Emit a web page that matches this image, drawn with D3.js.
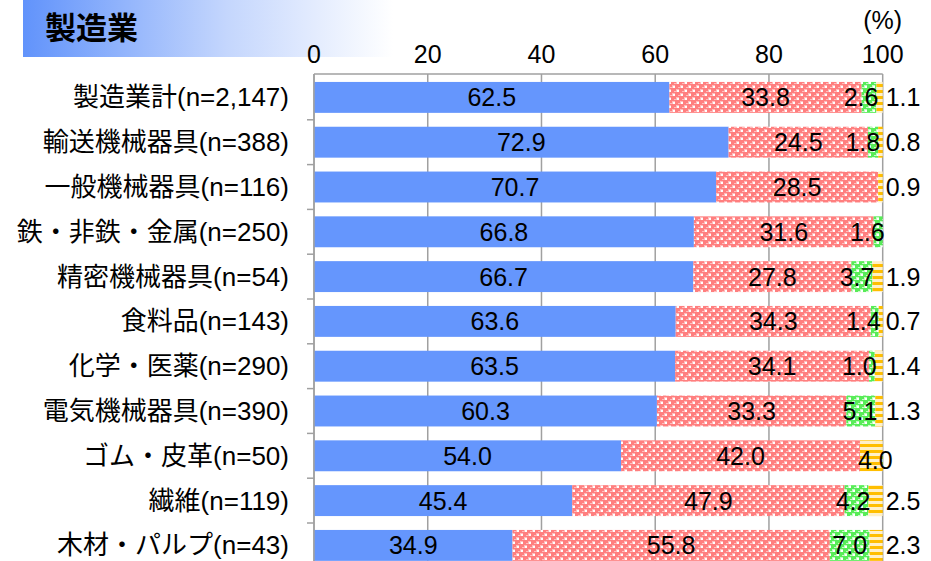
<!DOCTYPE html>
<html>
<head>
<meta charset="utf-8">
<script src="https://cdn.jsdelivr.net/npm/d3@7"></script>
<style>
  html, body { margin: 0; padding: 0; background: #fff; }
  svg { display: block; }
  text { font-family: "Liberation Sans", Arial, "Noto Sans CJK JP", sans-serif; }
</style>
</head>
<body>
<svg id="chart" width="931" height="561"></svg>
<script>
// Survey categories (industry, sample size)
const categories = [
  "製造業計(n=2,147)",
  "輸送機械器具(n=388)",
  "一般機械器具(n=116)",
  "鉄・非鉄・金属(n=250)",
  "精密機械器具(n=54)",
  "食料品(n=143)",
  "化学・医薬(n=290)",
  "電気機械器具(n=390)",
  "ゴム・皮革(n=50)",
  "繊維(n=119)",
  "木材・パルプ(n=43)"
];
// Share of responses (%) for each of the four answer groups
const seriesA = [62.5, 72.9, 70.7, 66.8, 66.7, 63.6, 63.5, 60.3, 54.0, 45.4, 34.9];
const seriesB = [33.8, 24.5, 28.5, 31.6, 27.8, 34.3, 34.1, 33.3, 42.0, 47.9, 55.8];
const seriesC = [2.6, 1.8, 0, 1.6, 3.7, 1.4, 1.0, 5.1, 0, 4.2, 7.0];
const seriesD = [1.1, 0.8, 0.9, 0, 1.9, 0.7, 1.4, 1.3, 4.0, 2.5, 2.3];
const xTicks = [0, 20, 40, 60, 80, 100];
const title = "製造業";

const svg = d3.select("#chart");
const defs = svg.append("defs");

// Title band with fading gradient
const grad = defs.append("linearGradient").attr("id", "titleGrad")
  .attr("x1", "0%").attr("x2", "100%").attr("y1", "0%").attr("y2", "0%");
grad.append("stop").attr("offset", "0%").attr("stop-color", "#6193fb");
grad.append("stop").attr("offset", "55%").attr("stop-color", "#c4d6fd");
grad.append("stop").attr("offset", "100%").attr("stop-color", "#ffffff");
svg.append("rect").attr("x", 23).attr("y", 0).attr("width", 370).attr("height", 57)
  .attr("fill", "url(#titleGrad)");
svg.append("text").attr("x", 45).attr("y", 39).attr("font-size", 31)
  .attr("font-weight", "bold").attr("fill", "#000")
  .style("font-family", "'Noto Sans CJK JP', sans-serif").text(title);

// Checkered diagonal fill pattern
function diagPattern(id, base, light) {
  const p = defs.append("pattern").attr("id", id).attr("patternUnits", "userSpaceOnUse")
    .attr("width", 8).attr("height", 8);
  p.append("rect").attr("width", 8).attr("height", 8).attr("fill", base);
  [[0, 5], [4, 1]].forEach(([x, y]) => {
    p.append("rect").attr("x", x).attr("y", y).attr("width", 3).attr("height", 3).attr("fill", light);
    p.append("rect").attr("x", x + 1).attr("y", y + 1).attr("width", 2).attr("height", 2).attr("fill", "#ffffff");
  });
  [[2, 3], [6, 7]].forEach(([x, y]) => {
    p.append("rect").attr("x", x).attr("y", y).attr("width", 2).attr("height", 1).attr("fill", light);
  });
}
diagPattern("patB", "#ff7f7f", "#ffbcbc");
diagPattern("patC", "#58ec58", "#c4fac4");
// Horizontal stripes
const pd = defs.append("pattern").attr("id", "patD").attr("patternUnits", "userSpaceOnUse")
  .attr("width", 6).attr("height", 6);
pd.append("rect").attr("width", 6).attr("height", 6).attr("fill", "#fff0c8");
pd.append("rect").attr("y", 0).attr("width", 6).attr("height", 3).attr("fill", "#ffbe00");

// Scales
const x = d3.scaleLinear().domain([0, 100]).range([314, 882.7]);
const y = d3.scaleBand().domain(categories).range([75, 567.8]).paddingInner(0.31).paddingOuter(0.155);
const step = y.step();

// Grid lines
svg.append("g").selectAll("line").data(xTicks).join("line")
  .attr("x1", d => x(d)).attr("x2", d => x(d))
  .attr("y1", 74).attr("y2", 561)
  .attr("stroke", "#a0a0a0").attr("stroke-width", 1.5);

// Stacked data
const rows = categories.map((c, i) => ({ cat: c, vals: [seriesA[i], seriesB[i], seriesC[i], seriesD[i]] }));
const fills = ["#6596fd", "url(#patB)", "url(#patC)", "url(#patD)"];
const segs = [];
rows.forEach(r => {
  let acc = 0;
  r.vals.forEach((v, k) => {
    segs.push({ cat: r.cat, k, v, x0: acc, x1: acc + v });
    acc += v;
  });
});

svg.append("g").selectAll("rect").data(segs.filter(s => s.v > 0)).join("rect")
  .attr("x", d => x(d.x0))
  .attr("width", d => Math.max(0, Math.min(x(d.x1), x(100)) - x(d.x0)))
  .attr("y", d => y(d.cat)).attr("height", y.bandwidth())
  .attr("fill", d => fills[d.k]);

// Axis lines
svg.append("line").attr("x1", 314).attr("x2", x(100)).attr("y1", 74).attr("y2", 74)
  .attr("stroke", "#a0a0a0").attr("stroke-width", 1.5);
svg.append("line").attr("x1", 314).attr("x2", 314).attr("y1", 74).attr("y2", 561)
  .attr("stroke", "#a0a0a0").attr("stroke-width", 1.5);
// Category separators on the left axis
svg.append("g").selectAll("line").data(categories.slice(1)).join("line")
  .attr("x1", 307).attr("x2", 314)
  .attr("y1", d => y(d) - step * y.paddingInner() / 2)
  .attr("y2", d => y(d) - step * y.paddingInner() / 2)
  .attr("stroke", "#a0a0a0").attr("stroke-width", 1.5);

// Tick labels
svg.append("g").selectAll("text").data(xTicks).join("text")
  .attr("x", d => x(d)).attr("y", 63).attr("text-anchor", "middle")
  .attr("font-size", 25).attr("fill", "#000").text(d => d);
svg.append("text").attr("x", x(100)).attr("y", 29).attr("text-anchor", "middle")
  .attr("font-size", 25).attr("fill", "#000").text("(%)");

// Category labels
svg.append("g").selectAll("text").data(categories).join("text")
  .attr("x", 289).attr("y", d => y(d) + y.bandwidth() / 2 + 9)
  .attr("text-anchor", "end").attr("font-size", 26).attr("fill", "#000")
  .text(d => d);

// Value labels
const fmt = d3.format(".1f");
const labelSize = 25;
const textW = v => fmt(v).length * labelSize * 0.49;
const labels = svg.append("g");
segs.filter(s => s.v > 0).forEach(d => {
  const w = x(d.x1) - x(d.x0);
  const cx = (x(d.x0) + x(d.x1)) / 2;
  const t = labels.append("text").attr("font-size", labelSize).attr("fill", "#000").text(fmt(d.v));
  let yy = y(d.cat) + y.bandwidth() / 2 + 9;
  if (d.k === 3) {
    if (w < 20) t.attr("x", x(100) + 3).attr("text-anchor", "start");
    else { t.attr("x", cx + 4).attr("text-anchor", "middle"); yy += 4; }
  } else if (d.k === 2 && w < textW(d.v)) {
    t.attr("x", x(d.x1) + 2).attr("text-anchor", "end");
  } else {
    t.attr("x", cx).attr("text-anchor", "middle");
  }
  t.attr("y", yy);
});
</script>
</body>
</html>
